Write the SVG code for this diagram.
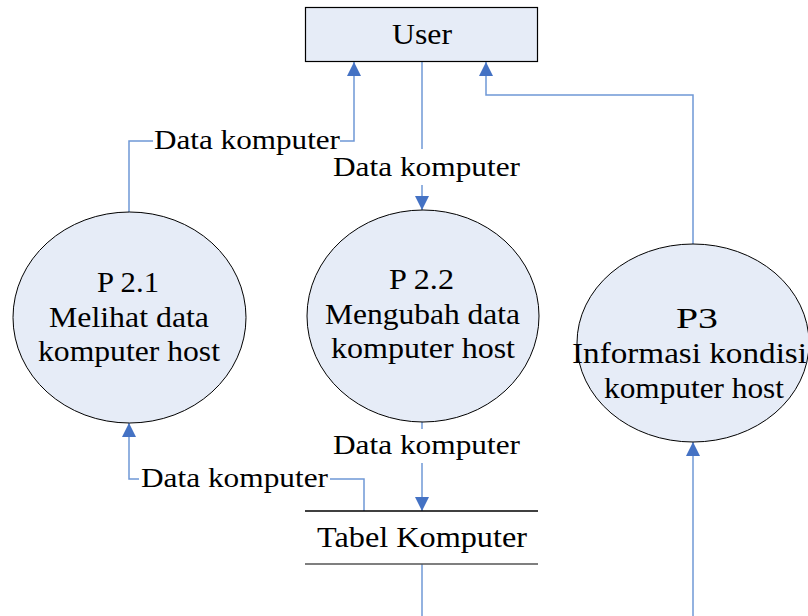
<svg xmlns="http://www.w3.org/2000/svg" width="808" height="616" viewBox="0 0 808 616">
  <style>
    .bg { fill: #ffffff; }
    .entity { fill: #E6ECF7; stroke: #000000; stroke-width: 1.2; }
    .process { fill: #E6ECF7; stroke: #000000; stroke-width: 1; }
    .store-top { stroke: #000000; stroke-width: 1.3; }
    .store-bottom { stroke: #555555; stroke-width: 1.3; }
    .flow { fill: none; stroke: #6F98D6; stroke-width: 1.5; }
    text { font-family: 'Liberation Serif', 'Times New Roman', Times, serif; fill: #000000; }
    .t { font-size: 28.5px; }
    .lbl { font-size: 26.5px; }
  </style>
  <defs>
    <marker id="arrow" markerUnits="userSpaceOnUse" markerWidth="14" markerHeight="14" refX="13" refY="6.5" orient="auto" viewBox="0 0 13 13">
      <path d="M0,0 L13,6.5 L0,13 z" fill="#4472C4"/>
    </marker>
  </defs>

  <rect class="bg" x="0" y="0" width="808" height="616"/>

  <!-- data flows -->
  <g id="connectors" font-family="Liberation Serif, serif">
    <!-- User to P 2.2 -->
    <path class="flow" d="M422,62 V149"/>
    <path class="flow" d="M422,185 V210" marker-end="url(#arrow)"/>
    <!-- P 2.1 to User -->
    <path class="flow" d="M129,212 V141 H153"/>
    <path class="flow" d="M340,141 H354 V62" marker-end="url(#arrow)"/>
    <!-- P3 to User -->
    <path class="flow" d="M693,244 V95 H486 V62" marker-end="url(#arrow)"/>
    <!-- P 2.2 to Tabel Komputer -->
    <path class="flow" d="M422,422 V429"/>
    <path class="flow" d="M422,463 V511" marker-end="url(#arrow)"/>
    <!-- Tabel Komputer to P 2.1 -->
    <path class="flow" d="M364,511 V479 H330"/>
    <path class="flow" d="M139,479 H129 V423" marker-end="url(#arrow)"/>
    <!-- Tabel Komputer to P3 -->
    <path class="flow" d="M422,564 V620"/>
    <path class="flow" d="M693,620 V442" marker-end="url(#arrow)"/>

    <text class="lbl" x="154" y="149" textLength="186" lengthAdjust="spacingAndGlyphs">Data komputer</text>
    <text class="lbl" x="333" y="176" textLength="187" lengthAdjust="spacingAndGlyphs">Data komputer</text>
    <text class="lbl" x="333" y="454" textLength="187" lengthAdjust="spacingAndGlyphs">Data komputer</text>
    <text class="lbl" x="141" y="487" textLength="187" lengthAdjust="spacingAndGlyphs">Data komputer</text>
  </g>

  <!-- external entity -->
  <g id="user">
    <rect class="entity" x="305.5" y="7.5" width="232" height="54"/>
    <text class="t" x="392" y="44" textLength="60" lengthAdjust="spacingAndGlyphs">User</text>
  </g>

  <!-- processes -->
  <g id="p21">
    <ellipse class="process" cx="129.5" cy="317.5" rx="116.5" ry="105.5"/>
    <text class="t" x="97" y="292" textLength="62" lengthAdjust="spacingAndGlyphs">P 2.1</text>
    <text class="t" x="49" y="327" textLength="160" lengthAdjust="spacingAndGlyphs">Melihat data</text>
    <text class="t" x="38" y="361" textLength="182" lengthAdjust="spacingAndGlyphs">komputer host</text>
  </g>

  <g id="p22">
    <ellipse class="process" cx="423" cy="316" rx="116" ry="106"/>
    <text class="t" x="389" y="289" textLength="65" lengthAdjust="spacingAndGlyphs">P 2.2</text>
    <text class="t" x="325" y="324" textLength="195" lengthAdjust="spacingAndGlyphs">Mengubah data</text>
    <text class="t" x="331" y="358" textLength="184" lengthAdjust="spacingAndGlyphs">komputer host</text>
  </g>

  <g id="p3">
    <ellipse class="process" cx="693" cy="343" rx="116" ry="99"/>
    <text class="t" x="676" y="328" textLength="42" lengthAdjust="spacingAndGlyphs">P3</text>
    <text class="t" x="572" y="363" textLength="235" lengthAdjust="spacingAndGlyphs">Informasi kondisi</text>
    <text class="t" x="604" y="398" textLength="180" lengthAdjust="spacingAndGlyphs">komputer host</text>
  </g>

  <!-- data store -->
  <g id="tabel-komputer">
    <line class="store-top" x1="305" y1="511" x2="538" y2="511"/>
    <line class="store-bottom" x1="305" y1="564" x2="538" y2="564"/>
    <text class="t" x="317" y="547" textLength="210" lengthAdjust="spacingAndGlyphs">Tabel Komputer</text>
  </g>
</svg>
